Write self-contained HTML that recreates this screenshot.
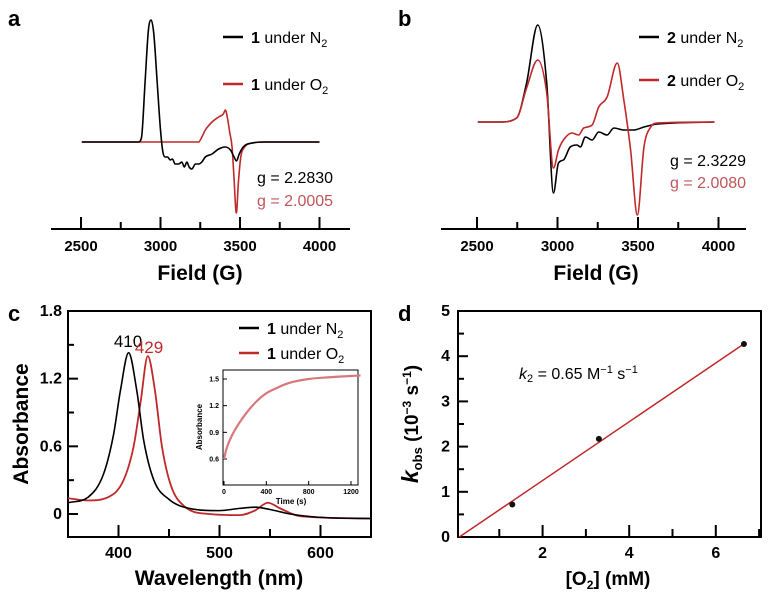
<!DOCTYPE html>
<html><head><meta charset="utf-8"><style>
html,body{margin:0;padding:0;background:#fff;}
svg{display:block;font-family:"Liberation Sans",Arial,sans-serif;}
</style></head><body>
<svg id="fig" width="779" height="598" viewBox="0 0 779 598">
<text x="8" y="26" font-size="22" font-weight="bold">a</text>
<text x="398" y="26" font-size="22" font-weight="bold">b</text>
<text x="8" y="321" font-size="22" font-weight="bold">c</text>
<text x="398" y="321" font-size="22" font-weight="bold">d</text>
<g>
<line x1="223" y1="37" x2="243" y2="37" stroke="#000" stroke-width="2.5"/>
<text x="251" y="43" font-size="16"><tspan font-weight="bold">1</tspan> under N<tspan font-size="11" dy="4">2</tspan></text>
<line x1="223" y1="84" x2="243" y2="84" stroke="#c0282a" stroke-width="2.5"/>
<text x="251" y="90" font-size="16"><tspan font-weight="bold">1</tspan> under O<tspan font-size="11" dy="4">2</tspan></text>
</g>
<text x="257" y="183" font-size="16">g = 2.2830</text>
<text x="257" y="206" font-size="16" fill="#c0555a">g = 2.0005</text>
<g>
<line x1="639" y1="37" x2="659" y2="37" stroke="#000" stroke-width="2.5"/>
<text x="667" y="43" font-size="16"><tspan font-weight="bold">2</tspan> under N<tspan font-size="11" dy="4">2</tspan></text>
<line x1="639" y1="80" x2="659" y2="80" stroke="#c0282a" stroke-width="2.5"/>
<text x="667" y="86" font-size="16"><tspan font-weight="bold">2</tspan> under O<tspan font-size="11" dy="4">2</tspan></text>
</g>
<text x="670" y="166" font-size="16">g = 2.3229</text>
<text x="670" y="188" font-size="16" fill="#c0555a">g = 2.0080</text>
<text x="200" y="280" font-size="21" font-weight="bold" text-anchor="middle">Field (G)</text>
<text x="596" y="280" font-size="21" font-weight="bold" text-anchor="middle">Field (G)</text>
<text x="219" y="585" font-size="21" font-weight="bold" text-anchor="middle">Wavelength (nm)</text>
<text transform="translate(28,424) rotate(-90)" font-size="21" font-weight="bold" text-anchor="middle">Absorbance</text>
<text x="128" y="347" font-size="17" text-anchor="middle">410</text>
<text x="149" y="353" font-size="17" fill="#c0282a" text-anchor="middle">429</text>
<g>
<line x1="239" y1="328" x2="259" y2="328" stroke="#000" stroke-width="2.5"/>
<text x="267" y="334" font-size="16"><tspan font-weight="bold">1</tspan> under N<tspan font-size="11" dy="4">2</tspan></text>
<line x1="239" y1="353" x2="259" y2="353" stroke="#c0282a" stroke-width="2.5"/>
<text x="267" y="359" font-size="16"><tspan font-weight="bold">1</tspan> under O<tspan font-size="11" dy="4">2</tspan></text>
</g>
<text x="278" y="417" font-size="12" fill="#c0282a">at 429 nm</text>
<text x="291" y="504" font-size="8" font-weight="bold" text-anchor="middle">Time (s)</text>
<text transform="translate(202,427) rotate(-90)" font-size="8" font-weight="bold" text-anchor="middle">Absorbance</text>
<text x="608" y="585" font-size="19" font-weight="bold" text-anchor="middle">[O<tspan font-size="12" dy="4">2</tspan><tspan dy="-4">] (mM)</tspan></text>
<text transform="translate(418,424) rotate(-90)" font-size="19" font-weight="bold" text-anchor="middle"><tspan font-style="italic" font-size="23">k</tspan><tspan font-size="13" dy="4">obs</tspan><tspan dy="-4"> (10</tspan><tspan font-size="12" dy="-7">−3</tspan><tspan dy="7"> s</tspan><tspan font-size="12" dy="-7">−1</tspan><tspan dy="7">)</tspan></text>
<text x="519" y="379" font-size="16"><tspan font-style="italic">k</tspan><tspan font-size="11" dy="3">2</tspan><tspan dy="-3"> = 0.65 M</tspan><tspan font-size="11" dy="-6">−1</tspan><tspan dy="6"> s</tspan><tspan font-size="11" dy="-6">−1</tspan></text>
</svg>
<script>
const aBlackField=[2505,2860,2880,2903,2924,2941,2958,2979,3000,3015,3029,3045,3061,3075,3092,3115,3134,3150,3166,3180,3197,3220,3240,3260,3282,3324,3366,3408,3440,3460,3478,3495,3520,3576,3660,4000];
const aBlackVal=[0,0,4,60,112,122,108,60,12,-10,-15,-15,-18,-17,-22,-22,-20,-25,-20,-25,-27,-22,-22,-20,-15,-12,-7,-5,-8,-14,-19,-12,-5,-1,0,0];
const aRedField=[2505,3240,3260,3282,3324,3366,3395,3408,3420,3435,3450,3462,3477,3490,3505,3530,3576,3660,4000];
const aRedVal=[0,0,5,12,20,25,28,32,25,10,-5,-35,-71,-40,-15,-5,-1,0,0];
const bBlackField=[2505,2642,2746,2808,2877,2933,2975,3006,3037,3079,3121,3142,3173,3215,3256,3308,3350,3412,3475,3537,3621,3975];
const bBlackVal=[0,0,4,39,97,39,-71,-41,-38,-25,-23,-25,-15,-18,-10,-13,-6,-8,-8,-5,-2,0];
const bRedField=[2505,2642,2746,2808,2877,2933,2975,3006,3037,3090,3131,3163,3215,3256,3308,3371,3412,3454,3496,3537,3579,3621,3975];
const bRedVal=[0,0,4,34,62,29,-46,-28,-18,-11,-13,-6,-3,15,25,59,22,-28,-93,-25,-5,-1,0];
const fieldTicks=[2500,3000,3500,4000];
const cBlackWl=[350,370,385,395,402,410,418,425,435,450,470,500,520,535,550,570,600,650];
const cBlackAbs=[0.1,0.15,0.35,0.7,1.1,1.43,1.1,0.65,0.3,0.13,0.05,0.03,0.05,0.06,0.04,0.0,-0.03,-0.04];
const cRedWl=[350,370,390,405,415,422,429,436,443,452,465,490,520,535,548,560,580,650];
const cRedAbs=[0.14,0.12,0.15,0.3,0.6,1.0,1.4,1.1,0.6,0.25,0.07,0.0,-0.01,0.03,0.1,0.05,-0.02,-0.04];
const cXTicks=[400,500,600];
const cYTicks=[0,0.6,1.2,1.8];
const insetTime=[0,20,50,100,200,300,400,500,600,800,1000,1290];
const insetAbs=[0.6,0.7,0.8,0.92,1.1,1.24,1.34,1.4,1.45,1.5,1.52,1.54];
const insetXTicks=[0,400,800,1200];
const insetYTicks=[0.6,0.9,1.2,1.5];
const dConc=[1.3,3.3,6.65];
const dKobs=[0.72,2.17,4.27];
const dSlope=0.65, dIntercept=-0.05;
const dXTicks=[2,4,6];
const dYTicks=[0,1,2,3,4,5];

const svg=document.getElementById('fig');
const NS='http://www.w3.org/2000/svg';
function mk(tag,attrs,parent){const e=document.createElementNS(NS,tag);for(const k in attrs)e.setAttribute(k,attrs[k]);(parent||svg).appendChild(e);return e;}
// monotone cubic (no overshoot)
function smooth(p){const n=p.length;const d=[],m=[];for(let i=0;i<n-1;i++)d.push((p[i+1][1]-p[i][1])/(p[i+1][0]-p[i][0]));
m[0]=d[0];m[n-1]=d[n-2];for(let i=1;i<n-1;i++){m[i]=(d[i-1]*d[i]<=0)?0:(d[i-1]+d[i])/2;}
for(let i=0;i<n-1;i++){if(d[i]===0){m[i]=0;m[i+1]=0;continue;}const a=m[i]/d[i],b=m[i+1]/d[i],s=a*a+b*b;if(s>9){const t=3/Math.sqrt(s);m[i]=t*a*d[i];m[i+1]=t*b*d[i];}}
let s='M'+p[0][0]+','+p[0][1];for(let i=0;i<n-1;i++){const h=(p[i+1][0]-p[i][0])/3;s+=` C${p[i][0]+h},${p[i][1]+m[i]*h} ${p[i+1][0]-h},${p[i+1][1]-m[i+1]*h} ${p[i+1][0]},${p[i+1][1]}`;}return s;}

function epr(x0,scale,base,fx,fy,col,name){const pts=fx.map((f,i)=>[x0+(f-2500)*scale,base-fy[i]]);
const p=mk('path',{d:smooth(pts),fill:'none',stroke:col,'stroke-width':1.6});

}
function eprAxis(x0,scale,xl,xr,y,name){const g=mk('g',{});


mk('line',{x1:xl,y1:y,x2:xr,y2:y,stroke:'#000','stroke-width':2},g);
for(let v=2500;v<=4000;v+=250){const x=x0+(v-2500)*scale;const major=v%500===0;mk('line',{x1:x,y1:y-(major?12:7),x2:x,y2:y,stroke:'#000','stroke-width':2},g);}
fieldTicks.forEach(v=>{const t=mk('text',{x:x0+(v-2500)*scale,y:y+22,'font-size':15,'font-weight':'bold','text-anchor':'middle'},g);t.textContent=v;});}
const sa=79.5/500, sb=80.5/500;
eprAxis(81,sa,51,350,229,'x-axis-a');
epr(81,sa,142,aRedField,aRedVal,'#c0282a','series-1-o2-epr');
epr(81,sa,142,aBlackField,aBlackVal,'#000','series-1-n2-epr');
eprAxis(477,sb,441,746,229,'x-axis-b');
epr(477,sb,122,bBlackField,bBlackVal,'#000','series-2-n2-epr');
epr(477,sb,122,bRedField,bRedVal,'#c0282a','series-2-o2-epr');

const cx=w=>68+(w-350)*303/300, cy=a=>514-a*203/1.8;
const gc=mk('g',{});


mk('rect',{x:68,y:311,width:303,height:226,fill:'none',stroke:'#000','stroke-width':2},gc);
for(let w=350;w<=650;w+=50){mk('line',{x1:cx(w),y1:537,x2:cx(w),y2:537-(w%100===0?12:8),stroke:'#000','stroke-width':2},gc);}
for(let k=-1;k<=6;k++){const a=k*0.3;const y=cy(a);if(y<311||y>537)continue;mk('line',{x1:68,y1:y,x2:68+(k%2===0?10:6),y2:y,stroke:'#000','stroke-width':2},gc);}
cXTicks.forEach(v=>{const t=mk('text',{x:cx(v),y:558,'font-size':16,'font-weight':'bold','text-anchor':'middle'},gc);t.textContent=v;});
cYTicks.forEach(v=>{const t=mk('text',{x:62,y:cy(v)+5,'font-size':16,'font-weight':'bold','text-anchor':'end'},gc);t.textContent=v;});
const cpRed=mk('path',{d:smooth(cRedWl.map((w,i)=>[cx(w),cy(cRedAbs[i])])),fill:'none',stroke:'#c0282a','stroke-width':1.8});


const cpBlack=mk('path',{d:smooth(cBlackWl.map((w,i)=>[cx(w),cy(cBlackAbs[i])])),fill:'none',stroke:'#000','stroke-width':1.6});


const ix=t=>224+t*127/1200, iy=a=>459-(a-0.6)*80/0.9;
const gi=mk('g',{});


mk('rect',{x:223,y:370,width:135,height:115,fill:'#fff',stroke:'#000','stroke-width':1},gi);
insetXTicks.forEach(v=>{mk('line',{x1:ix(v),y1:485,x2:ix(v),y2:481,stroke:'#000'},gi);const t=mk('text',{x:ix(v),y:494,'font-size':7,'font-weight':'bold','text-anchor':'middle'},gi);t.textContent=v;});
insetYTicks.forEach(v=>{mk('line',{x1:223,y1:iy(v),x2:227,y2:iy(v),stroke:'#000'},gi);const t=mk('text',{x:219,y:iy(v)+2.5,'font-size':7,'font-weight':'bold','text-anchor':'end'},gi);t.textContent=v.toFixed(1);});
const ip=mk('path',{d:smooth(insetTime.map((t,i)=>[ix(t),iy(insetAbs[i])])),fill:'none',stroke:'#d9787a','stroke-width':2.2},gi);



const dx=v=>456+v*43.3, dy=v=>537-v*45.2;
const gd=mk('g',{});


mk('rect',{x:458,y:311,width:303,height:226,fill:'none',stroke:'#000','stroke-width':2},gd);
for(let v=1;v<=7;v++){mk('line',{x1:dx(v),y1:537,x2:dx(v),y2:537-(v%2===0?12:8),stroke:'#000','stroke-width':2},gd);}
for(let k=1;k<10;k++){mk('line',{x1:458,y1:dy(k/2),x2:458+(k%2===0?10:6),y2:dy(k/2),stroke:'#000','stroke-width':2},gd);}
dXTicks.forEach(v=>{const t=mk('text',{x:dx(v),y:558,'font-size':16,'font-weight':'bold','text-anchor':'middle'},gd);t.textContent=v;});
dYTicks.forEach(v=>{const t=mk('text',{x:450,y:dy(v)+5,'font-size':16,'font-weight':'bold','text-anchor':'end'},gd);t.textContent=v;});
const x0=-dIntercept/dSlope, x1=dConc[dConc.length-1];
const fit=mk('line',{x1:dx(x0),y1:dy(0),x2:dx(x1),y2:dy(dSlope*x1+dIntercept),stroke:'#c0282a','stroke-width':1.5},gd);


dConc.forEach((c,i)=>{const p=mk('circle',{cx:dx(c),cy:dy(dKobs[i]),r:3,fill:'#111'},gd);

});
</script>
</body></html>
